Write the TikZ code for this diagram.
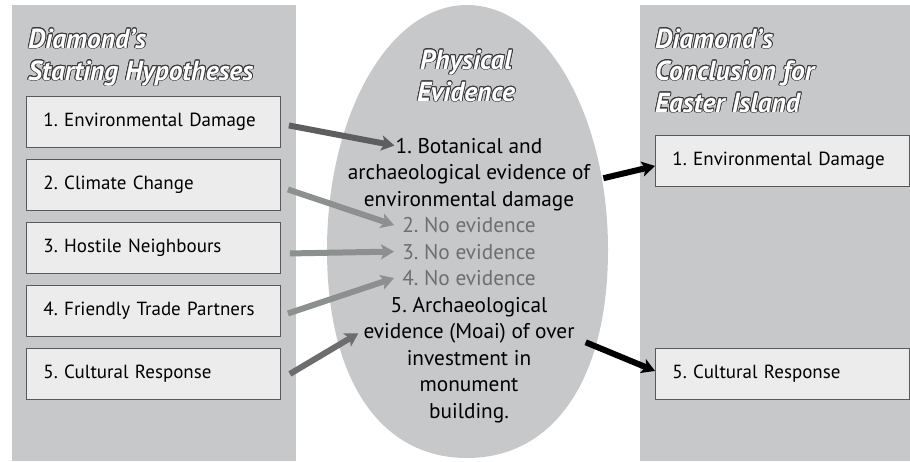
\documentclass[tikz,border=0pt]{standalone}
\usepackage{fontspec}
\setmainfont{PT Sans}
\usepackage[copies]{contour}
\contourlength{0.8pt}
\usetikzlibrary{arrows.meta}
\frenchspacing

\definecolor{panelgrey}{HTML}{C7C8CA}
\definecolor{boxfill}{HTML}{ECECEC}
\definecolor{boxedge}{HTML}{59595B}
\definecolor{greytext}{HTML}{6D6E71}
\definecolor{outlinegrey}{HTML}{3A3A3C}
\definecolor{arrowdark}{HTML}{5E5E60}
\definecolor{arrowpale}{HTML}{8C918F}
\definecolor{arrowmid}{HTML}{6D6D70}

\begin{document}
\begin{tikzpicture}[x=1pt,y=-1pt,
  hypo/.style={draw=boxedge, line width=0.9pt, fill=boxfill, anchor=north west,
    minimum width=254pt, minimum height=51pt, text width=220pt, inner xsep=17pt,
    inner ysep=0pt, align=left, font=\fontsize{19}{22}\selectfont},
  heading/.style={anchor=base west, align=left, text=white, inner sep=0pt,
    font=\fontsize{27.5}{32}\selectfont\bfseries\itshape},
  evline/.style={anchor=base, inner sep=1pt, font=\fontsize{21.3}{24}\selectfont},
  noev/.style={evline, text=greytext, inner xsep=8pt},
  link/.style={line width=6pt, -{Stealth[length=13pt,width=15pt,inset=3pt]}}]
\useasboundingbox (0,0) rectangle (910,461);

% background panels and the egg
\fill[panelgrey] (12,5) rectangle (296,461);
\fill[panelgrey] (640,5) rectangle (910,461);
\fill[panelgrey] (467,5) .. controls (545,5) and (608,115) .. (608,250)
  .. controls (608,379) and (554,458) .. (467,458)
  .. controls (380,458) and (327,379) .. (327,250)
  .. controls (327,115) and (389,5) .. (467,5);

% headings (base = last line)
\node[heading] (lhead) at (28,80) {\contour{outlinegrey}{Diamond’s}\\\contour{outlinegrey}{Starting Hypotheses}};
\node[heading, anchor=base, align=center] (mhead) at (466,101) {\contour{outlinegrey}{Physical}\\\contour{outlinegrey}{Evidence}};
\node[heading] (rhead) at (655,112) {\contour{outlinegrey}{Diamond’s}\\\contour{outlinegrey}{Conclusion for}\\\contour{outlinegrey}{Easter Island}};

% starting hypotheses
\node[hypo] (h1) at (26,96) {1. Environmental Damage};
\node[hypo] (h2) at (26,159) {2. Climate Change};
\node[hypo] (h3) at (26,222) {3. Hostile Neighbours};
\node[hypo] (h4) at (26,285) {4. Friendly Trade Partners};
\node[hypo] (h5) at (26,348) {5. Cultural Response};

% conclusions
\node[hypo] (c1) at (655,135) {1. Environmental Damage};
\node[hypo] (c5) at (655,348) {5. Cultural Response};

% physical evidence, line by line
\node[evline] (l1) at (469,153) {1. Botanical and};
\node[evline] (l2) at (469,179.5) {archaeological evidence of};
\node[evline] (l3) at (469,206) {environmental damage};
\node[noev] (l4) at (469,232.5) {2. No evidence};
\node[noev] (l5) at (469,259) {3. No evidence};
\node[noev] (l6) at (469,285.5) {4. No evidence};
\node[evline] (l7) at (469,312) {5. Archaeological};
\node[evline, inner xsep=5pt] (l8) at (469,338.5) {evidence (Moai) of over};
\node[evline] (l9) at (469,365) {investment in};
\node[evline] (l10) at (469,391.5) {monument};
\node[evline] (l11) at (469,418) {building.};

% links
\draw[link, draw=arrowdark, fill=arrowdark] ([xshift=8pt,yshift=-3.5pt]h1.east) -- (l1.west);
\draw[link, draw=arrowpale, fill=arrowpale] ([xshift=7pt,yshift=-4.5pt]h2.east) -- (l4.west);
\draw[link, draw=arrowpale, fill=arrowpale] ([xshift=9pt,yshift=-5.5pt]h3.east) -- (l5.west);
\draw[link, draw=arrowpale, fill=arrowpale] ([xshift=7pt,yshift=-2.5pt]h4.east) -- (l6.west);
\draw[link, draw=arrowmid, fill=arrowmid] ([xshift=9pt]h5.east) -- (l8.west);
\draw[link] ([xshift=12pt,yshift=-4pt]l2.east) -- ([yshift=-5pt]c1.west);
\draw[link] ([xshift=6pt,yshift=-9pt]l8.east) -- ([yshift=3pt]c5.west);
\end{tikzpicture}
\end{document}
